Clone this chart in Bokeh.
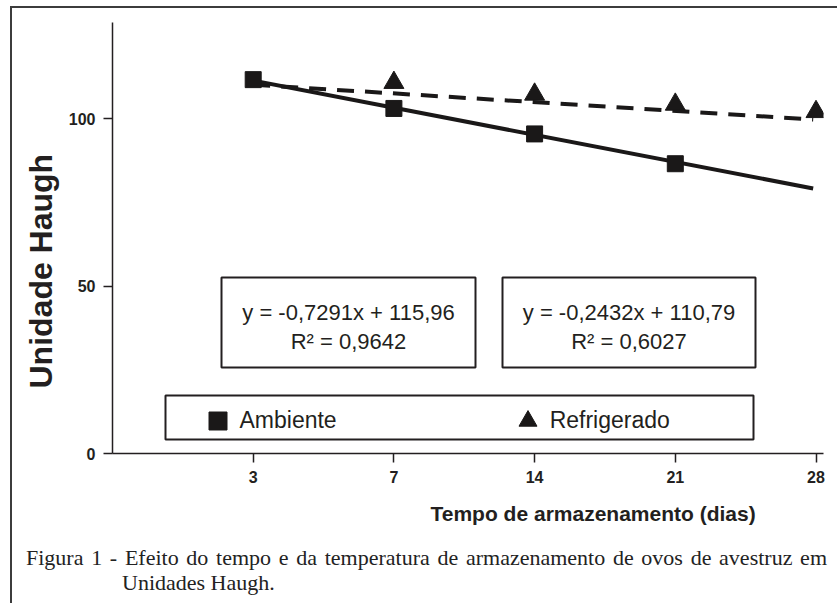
from bokeh.plotting import figure
from bokeh.layouts import column
from bokeh.models import (FixedTicker, Label, BoxAnnotation, Legend, LegendItem, Range1d,
                          Title, Div)
from bokeh.embed import file_html
from bokeh.resources import INLINE

# ---------------- data ----------------
days = ["3", "7", "14", "21", "28"]
day_pos = [1, 2, 3, 4, 5]
amb_pos = [1, 2, 3, 4]
ambiente = [111.6, 103.0, 95.4, 86.5]
ref_pos = [2, 3, 4, 5]
refrigerado = [110.7, 107.2, 104.2, 102.0]
trend_pos = [1, 4.98]
amb_trend = [111.3, 79.1]
ref_trend = [110.1, 99.7]
eq_amb = ["y = -0,7291x + 115,96", "R² = 0,9642"]
eq_ref = ["y = -0,2432x + 110,79", "R² = 0,6027"]
y_ticks = [0, 50, 100]
series_names = ["Ambiente", "Refrigerado"]
x_title = "Tempo de armazenamento (dias)"
y_title = "Unidade Haugh"
caption_line1 = "Figura 1 - Efeito do tempo e da temperatura de armazenamento de ovos de avestruz em"
caption_line2 = "Unidades Haugh."

# ---------------- layout ----------------
PAGE_W, PAGE_H = 837, 603
OX, OY = 12, 8                        # content origin (inside the outer rule)
FL, FB, FT, FR = 112, 453, 22, 823    # frame edges in page pixels
FIG_BOTTOM = 541
W, H = PAGE_W - OX, FIG_BOTTOM - OY
INK = "#231f20"
SANS = "Liberation Sans"
SERIF = "Liberation Serif"


def fx(px):
    return px - FL


def fy(py):
    return FB - py


p = figure(width=W, height=H, output_backend="svg", toolbar_location=None,
           x_range=Range1d(0, (FR - FL) / 140.7), y_range=Range1d(0, (FB - FT) / 3.35),
           min_border_left=FL - OX, min_border_right=PAGE_W - FR,
           min_border_top=FT - OY, min_border_bottom=FIG_BOTTOM - FB)
p.outline_line_color = None
p.grid.visible = False
p.background_fill_color = "white"
p.border_fill_color = "white"

for ax in (p.xaxis[0], p.yaxis[0]):
    ax.axis_line_color = INK
    ax.axis_line_width = 1.5
    ax.major_tick_line_color = INK
    ax.major_tick_line_width = 1.5
    ax.major_tick_in = 0
    ax.major_tick_out = 9
    ax.minor_tick_in = 0
    ax.minor_tick_out = 0
    ax.major_label_text_font = SANS
    ax.major_label_text_font_style = "bold"
    ax.major_label_text_font_size = "16px"
    ax.major_label_text_color = INK
    ax.major_label_standoff = 8

p.xaxis[0].ticker = FixedTicker(ticks=day_pos)
p.xaxis[0].major_label_overrides = {pos: d for pos, d in zip(day_pos, days)}
p.yaxis[0].ticker = FixedTicker(ticks=y_ticks)

# axis titles (side titles, shifted along the axis like the original)
p.add_layout(Title(text=x_title, align="left", offset=430 - FL,
                   text_font=SANS, text_font_style="bold", text_font_size="21px",
                   text_color=INK, standoff=29), "below")
p.add_layout(Title(text=y_title, align="left", offset=FB - 388,
                   text_font=SANS, text_font_style="bold", text_font_size="32px",
                   text_color=INK, standoff=14), "left")

# trend lines
p.line(trend_pos, ref_trend, line_color="#1a1818", line_width=4, line_dash="17 11")
p.line(trend_pos, amb_trend, line_color="#1a1818", line_width=4)

# points
r_amb = p.scatter(amb_pos, ambiente, marker="square", size=16, color="#1a1818")
r_ref = p.scatter(ref_pos, refrigerado, marker="triangle", size=20, color="#1a1818")

# equation boxes
for left, right, lines in ((221, 475, eq_amb), (502, 755, eq_ref)):
    p.add_layout(BoxAnnotation(left=fx(left), right=fx(right), top=fy(277), bottom=fy(367),
                               left_units="screen", right_units="screen",
                               top_units="screen", bottom_units="screen",
                               fill_color="white", fill_alpha=1.0,
                               line_color=INK, line_alpha=1.0, line_width=2))
    cx = (left + right) / 2
    for txt, cy in zip(lines, (312, 341)):
        p.add_layout(Label(x=fx(cx), y=fy(cy), x_units="screen", y_units="screen",
                           text=txt, text_font=SANS, text_font_size="22px",
                           text_color=INK, text_align="center", text_baseline="middle"))

# legend box + legend
p.add_layout(BoxAnnotation(left=fx(165), right=fx(753), top=fy(395), bottom=fy(439),
                           left_units="screen", right_units="screen",
                           top_units="screen", bottom_units="screen",
                           fill_color="white", fill_alpha=1.0,
                           line_color=INK, line_alpha=1.0, line_width=2))
legend = Legend(items=[LegendItem(label=series_names[0], renderers=[r_amb]),
                       LegendItem(label=series_names[1], renderers=[r_ref])],
                orientation="horizontal", location=(fx(194.5), fy(442.5)),
                glyph_width=45, glyph_height=45, label_standoff=0, spacing=168,
                padding=0, margin=0, border_line_color=None, background_fill_alpha=0,
                label_text_font=SANS, label_text_font_size="23px", label_text_color=INK)
p.add_layout(legend)

# caption below the chart, first line justified like the original
caption_html = (
    f'<div style="font-family:\'{SERIF}\'; font-size:22px; line-height:25px; color:#222222;'
    f' padding-top:0px; margin-top:-1px;">'
    f'<div style="width:801px; margin-left:{27 - OX - 6}px; text-align:justify;'
    f' text-align-last:justify;">{caption_line1}</div>'
    f'<div style="margin-left:{123 - OX - 6}px;">{caption_line2}</div></div>'
)
caption = Div(text=caption_html, width=W, height=PAGE_H - FIG_BOTTOM)

layout = column(p, caption, margin=(OY - 2, 0, 0, OX - 2),
                styles={"border-top": "2px solid #3c3c3c", "border-left": "2px solid #3c3c3c"})

open("out.html", "w").write(file_html(layout, INLINE))
